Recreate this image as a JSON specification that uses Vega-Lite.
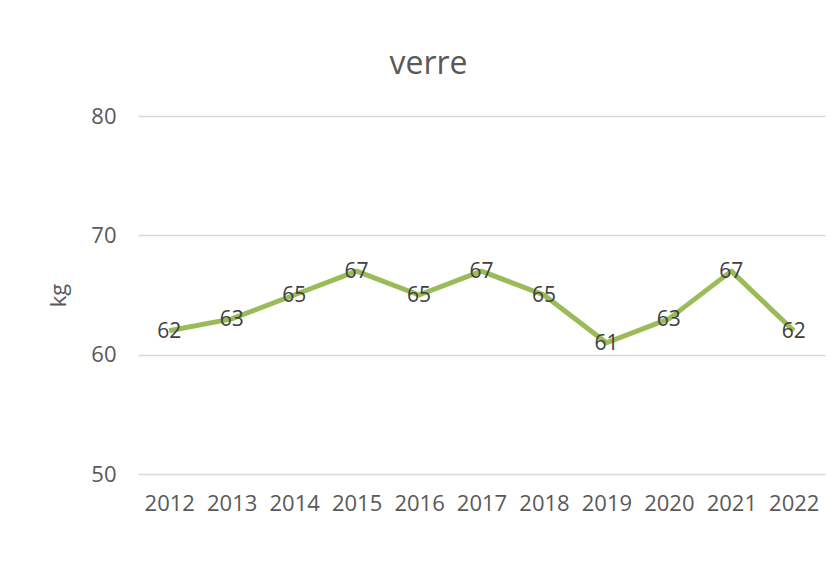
{
  "$schema": "https://vega.github.io/schema/vega-lite/v6.json",
  "width": 687,
  "height": 358,
  "autosize": {"type": "none"},
  "padding": {"left": 138, "top": 116, "right": 8, "bottom": 109},
  "background": "white",
  "config": {
    "view": {"stroke": null},
    "font": "Open Sans",
    "axis": {"labelFont": "Open Sans", "titleFont": "Open Sans"}
  },
  "title": {
    "text": "verre",
    "fontSize": 32,
    "fontWeight": "normal",
    "color": "#595959",
    "font": "Open Sans",
    "anchor": "middle",
    "dx": -53,
    "offset": 24
  },
  "data": {
    "values": [
      {"year": "2012", "kg": 62},
      {"year": "2013", "kg": 63},
      {"year": "2014", "kg": 65},
      {"year": "2015", "kg": 67},
      {"year": "2016", "kg": 65},
      {"year": "2017", "kg": 67},
      {"year": "2018", "kg": 65},
      {"year": "2019", "kg": 61},
      {"year": "2020", "kg": 63},
      {"year": "2021", "kg": 67},
      {"year": "2022", "kg": 62}
    ]
  },
  "encoding": {
    "x": {
      "field": "year",
      "type": "ordinal",
      "scale": {"paddingInner": 0, "paddingOuter": 0, "align": 0.5},
      "axis": {
        "title": null,
        "labelAngle": 0,
        "domain": false,
        "ticks": false,
        "grid": false,
        "labelFontSize": 22,
        "labelColor": "#595959",
        "labelPadding": 19
      }
    },
    "y": {
      "field": "kg",
      "type": "quantitative",
      "scale": {"domain": [50, 80], "nice": false, "zero": false},
      "axis": {
        "title": "kg",
        "titleFontSize": 22,
        "titleFontWeight": "normal",
        "titleColor": "#595959",
        "titlePadding": 20,
        "values": [50, 60, 70, 80],
        "domain": false,
        "ticks": false,
        "grid": true,
        "gridColor": "#d9d9d9",
        "gridWidth": 1.5,
        "labelFontSize": 22,
        "labelColor": "#595959",
        "labelPadding": 22
      }
    }
  },
  "layer": [
    {
      "mark": {"type": "line", "color": "#9bbb59", "strokeWidth": 5, "strokeJoin": "round"}
    },
    {
      "mark": {"type": "text", "fontSize": 21, "color": "#404040", "align": "center", "baseline": "middle", "dy": 1},
      "encoding": {"text": {"field": "kg", "type": "quantitative"}}
    }
  ]
}
